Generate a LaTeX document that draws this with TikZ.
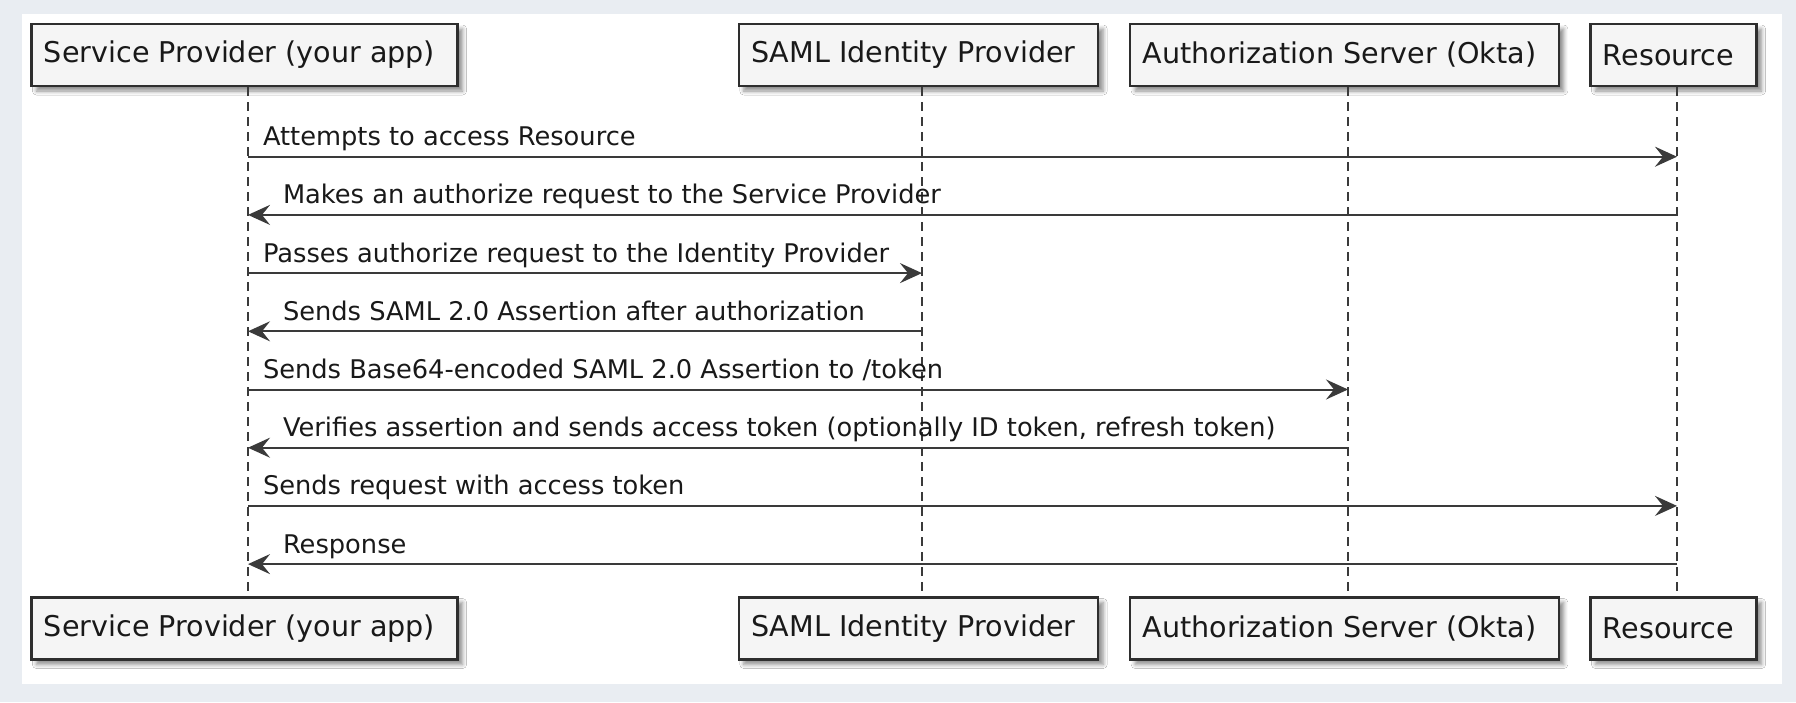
\documentclass[tikz,border=0pt]{standalone}
\usepackage{fontspec}
\setmainfont{DejaVu Sans}
\usepackage{tikz}
\usetikzlibrary{arrows.meta,positioning,shadows.blur}
\usepackage{xcolor}
\definecolor{pagebg}{HTML}{E9EDF2}
\definecolor{boxfill}{HTML}{F5F5F5}
\definecolor{boxline}{HTML}{2E2E2E}
\definecolor{msgline}{HTML}{3A3A3A}

\tikzset{
  actor/.style={draw=boxline, line width=2.5pt, fill=boxfill, minimum height=62pt,
    inner xsep=12.5pt, inner ysep=0pt, text=black!90, font=\fontsize{28.6}{34}\selectfont,
    blur shadow={shadow xshift=5pt, shadow yshift=-5pt, shadow blur steps=6,
      shadow blur radius=4pt, shadow opacity=45}},
  lifeline/.style={draw=msgline, line width=1.6pt, dash pattern=on 9pt off 6pt},
  msg/.style={draw=msgline, line width=2pt, -{Stealth[length=22pt,width=20pt,inset=8pt]}},
  msglabel/.style={font=\fontsize{25.7}{31}\selectfont, text=black!90, anchor=base west,
    inner sep=0pt, yshift=11pt},
}
% participant text sits a little left of the box centre
\newcommand{\actortext}[1]{#1\rule{10pt}{0pt}}

\begin{document}
\begin{tikzpicture}[>=Stealth, x=1pt, y=-1pt]
  %% Page
  \fill[pagebg] (0,0) rectangle (1796,702);
  \fill[white] (22,14) rectangle (1782,684);
  \useasboundingbox (0,0) rectangle (1796,702);

  %% Lifeline positions
  \coordinate (spL)  at (248,0);
  \coordinate (idpL) at (922,0);
  \coordinate (asL)  at (1348,0);
  \coordinate (resL) at (1677,0);

  %% Participants, top row
  \node[actor] (sp)  at (244.5,55)  {\actortext{Service Provider (your app)}};
  \node[actor] (idp) at (918.5,55)  {\actortext{SAML Identity Provider}};
  \node[actor] (as)  at (1344.5,55) {\actortext{Authorization Server (Okta)}};
  \node[actor] (res) at (1673.5,55) {\actortext{Resource}};
  %% Participants, bottom row
  \node[actor] (spB)  at (244.5,628.5)  {\actortext{Service Provider (your app)}};
  \node[actor] (idpB) at (918.5,628.5)  {\actortext{SAML Identity Provider}};
  \node[actor] (asB)  at (1344.5,628.5) {\actortext{Authorization Server (Okta)}};
  \node[actor] (resB) at (1673.5,628.5) {\actortext{Resource}};

  %% Lifelines
  \draw[lifeline] (spL |- sp.south)   -- (spL |- spB.north);
  \draw[lifeline] (idpL |- idp.south) -- (idpL |- idpB.north);
  \draw[lifeline] (asL |- as.south)   -- (asL |- asB.north);
  \draw[lifeline] (resL |- res.south) -- (resL |- resB.north);

  %% Message rows
  \coordinate (r1) at (0,156.7);
  \coordinate (r2) at (0,214.9);
  \coordinate (r3) at (0,273.1);
  \coordinate (r4) at (0,331.3);
  \coordinate (r5) at (0,389.5);
  \coordinate (r6) at (0,447.7);
  \coordinate (r7) at (0,505.9);
  \coordinate (r8) at (0,564.1);

  %% Messages
  \draw[msg] (spL |- r1) -- (resL |- r1)
    node[msglabel, pos=0, xshift=14pt] {Attempts to access Resource};
  \draw[msg] (resL |- r2) -- (spL |- r2)
    node[msglabel, pos=1, xshift=34pt] {Makes an authorize request to the Service Provider};
  \draw[msg] (spL |- r3) -- (idpL |- r3)
    node[msglabel, pos=0, xshift=14pt] {Passes authorize request to the Identity Provider};
  \draw[msg] (idpL |- r4) -- (spL |- r4)
    node[msglabel, pos=1, xshift=34pt] {Sends SAML 2.0 Assertion after authorization};
  \draw[msg] (spL |- r5) -- (asL |- r5)
    node[msglabel, pos=0, xshift=14pt] {Sends Base64-encoded SAML 2.0 Assertion to /token};
  \draw[msg] (asL |- r6) -- (spL |- r6)
    node[msglabel, pos=1, xshift=34pt] {Verifies assertion and sends access token (optionally ID token, refresh token)};
  \draw[msg] (spL |- r7) -- (resL |- r7)
    node[msglabel, pos=0, xshift=14pt] {Sends request with access token};
  \draw[msg] (resL |- r8) -- (spL |- r8)
    node[msglabel, pos=1, xshift=34pt] {Response};
\end{tikzpicture}
\end{document}
